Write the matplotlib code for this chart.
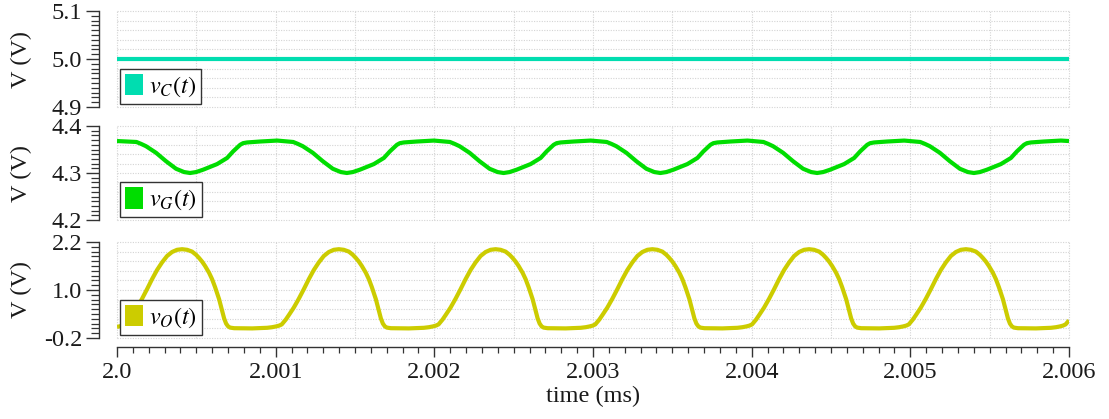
import matplotlib
matplotlib.use("Agg")
import matplotlib.pyplot as plt
from matplotlib.patches import Patch
from matplotlib.ticker import FixedLocator, FixedFormatter, NullLocator
import numpy as np

plt.rcParams['font.family'] = ['Liberation Serif', 'DejaVu Serif']
plt.rcParams['mathtext.fontset'] = 'stix'

# ---------------- data (time in microseconds after 2.0 ms) ----------------
time_c_us = [0.0, 6.0]
v_c = [5.0, 5.0]

time_g_us = [
    0.0000, 0.1224,
    0.1515, 0.1830, 0.2145, 0.2461, 0.2776, 0.3092, 0.3407, 0.3723, 0.4227, 0.4606,
    0.4985, 0.5426, 0.5868, 0.6309, 0.6940, 0.7319, 0.7571, 0.7761, 0.7950, 0.8202,
    0.9022, 1.0095, 1.1104,
    1.1395, 1.1710, 1.2025, 1.2341, 1.2656, 1.2972, 1.3287, 1.3603, 1.4107, 1.4486,
    1.4865, 1.5306, 1.5748, 1.6189, 1.6820, 1.7199, 1.7451, 1.7641, 1.7830, 1.8082,
    1.8902, 1.9975, 2.0984,
    2.1275, 2.1590, 2.1905, 2.2221, 2.2536, 2.2852, 2.3167, 2.3483, 2.3987, 2.4366,
    2.4745, 2.5186, 2.5628, 2.6069, 2.6700, 2.7079, 2.7331, 2.7521, 2.7710, 2.7962,
    2.8782, 2.9855, 3.0864,
    3.1155, 3.1470, 3.1785, 3.2101, 3.2416, 3.2732, 3.3047, 3.3363, 3.3867, 3.4246,
    3.4625, 3.5066, 3.5508, 3.5949, 3.6580, 3.6959, 3.7211, 3.7401, 3.7590, 3.7842,
    3.8662, 3.9735, 4.0744,
    4.1035, 4.1350, 4.1665, 4.1981, 4.2296, 4.2612, 4.2927, 4.3243, 4.3747, 4.4126,
    4.4505, 4.4946, 4.5388, 4.5829, 4.6460, 4.6839, 4.7091, 4.7281, 4.7470, 4.7722,
    4.8542, 4.9615, 5.0624,
    5.0915, 5.1230, 5.1545, 5.1861, 5.2176, 5.2492, 5.2807, 5.3123, 5.3627, 5.4006,
    5.4385, 5.4826, 5.5268, 5.5709, 5.6340, 5.6719, 5.6971, 5.7161, 5.7350, 5.7602,
    5.8422, 5.9495, 6.0000]
v_g = [
    4.368, 4.366,
    4.362, 4.357, 4.350, 4.343, 4.334, 4.325, 4.317, 4.309, 4.302, 4.300,
    4.302, 4.307, 4.313, 4.319, 4.332, 4.346, 4.354, 4.360, 4.3635, 4.365,
    4.367, 4.369, 4.366,
    4.362, 4.357, 4.350, 4.343, 4.334, 4.325, 4.317, 4.309, 4.302, 4.300,
    4.302, 4.307, 4.313, 4.319, 4.332, 4.346, 4.354, 4.360, 4.3635, 4.365,
    4.367, 4.369, 4.366,
    4.362, 4.357, 4.350, 4.343, 4.334, 4.325, 4.317, 4.309, 4.302, 4.300,
    4.302, 4.307, 4.313, 4.319, 4.332, 4.346, 4.354, 4.360, 4.3635, 4.365,
    4.367, 4.369, 4.366,
    4.362, 4.357, 4.350, 4.343, 4.334, 4.325, 4.317, 4.309, 4.302, 4.300,
    4.302, 4.307, 4.313, 4.319, 4.332, 4.346, 4.354, 4.360, 4.3635, 4.365,
    4.367, 4.369, 4.366,
    4.362, 4.357, 4.350, 4.343, 4.334, 4.325, 4.317, 4.309, 4.302, 4.300,
    4.302, 4.307, 4.313, 4.319, 4.332, 4.346, 4.354, 4.360, 4.3635, 4.365,
    4.367, 4.369, 4.366,
    4.362, 4.357, 4.350, 4.343, 4.334, 4.325, 4.317, 4.309, 4.302, 4.300,
    4.302, 4.307, 4.313, 4.319, 4.332, 4.346, 4.354, 4.360, 4.3635, 4.365,
    4.367, 4.369, 4.368]

time_o_us = [
    0.0000, 0.0152, 0.0341,
    0.0505, 0.0757, 0.0946, 0.1262, 0.1577, 0.1893, 0.2208, 0.2524, 0.2839, 0.3155,
    0.3470, 0.3786, 0.4101, 0.4416, 0.4732, 0.4984, 0.5174, 0.5363, 0.5552, 0.5804,
    0.5994, 0.6183, 0.6435, 0.6625, 0.6751, 0.6877, 0.7003, 0.7129, 0.7382, 0.8517,
    0.9464, 0.9779, 1.0032, 1.0221,
    1.0385, 1.0637, 1.0826, 1.1142, 1.1457, 1.1773, 1.2088, 1.2404, 1.2719, 1.3035,
    1.3350, 1.3666, 1.3981, 1.4296, 1.4612, 1.4864, 1.5054, 1.5243, 1.5432, 1.5684,
    1.5874, 1.6063, 1.6315, 1.6505, 1.6631, 1.6757, 1.6883, 1.7009, 1.7262, 1.8397,
    1.9344, 1.9659, 1.9912, 2.0101,
    2.0265, 2.0517, 2.0706, 2.1022, 2.1337, 2.1653, 2.1968, 2.2284, 2.2599, 2.2915,
    2.3230, 2.3546, 2.3861, 2.4176, 2.4492, 2.4744, 2.4934, 2.5123, 2.5312, 2.5564,
    2.5754, 2.5943, 2.6195, 2.6385, 2.6511, 2.6637, 2.6763, 2.6889, 2.7142, 2.8277,
    2.9224, 2.9539, 2.9792, 2.9981,
    3.0145, 3.0397, 3.0586, 3.0902, 3.1217, 3.1533, 3.1848, 3.2164, 3.2479, 3.2795,
    3.3110, 3.3426, 3.3741, 3.4056, 3.4372, 3.4624, 3.4814, 3.5003, 3.5192, 3.5444,
    3.5634, 3.5823, 3.6075, 3.6265, 3.6391, 3.6517, 3.6643, 3.6769, 3.7022, 3.8157,
    3.9104, 3.9419, 3.9672, 3.9861,
    4.0025, 4.0277, 4.0466, 4.0782, 4.1097, 4.1413, 4.1728, 4.2044, 4.2359, 4.2675,
    4.2990, 4.3306, 4.3621, 4.3936, 4.4252, 4.4504, 4.4694, 4.4883, 4.5072, 4.5324,
    4.5514, 4.5703, 4.5955, 4.6145, 4.6271, 4.6397, 4.6523, 4.6649, 4.6902, 4.8037,
    4.8984, 4.9299, 4.9552, 4.9741,
    4.9905, 5.0157, 5.0346, 5.0662, 5.0977, 5.1293, 5.1608, 5.1924, 5.2239, 5.2555,
    5.2870, 5.3186, 5.3501, 5.3816, 5.4132, 5.4384, 5.4574, 5.4763, 5.4952, 5.5204,
    5.5394, 5.5583, 5.5835, 5.6025, 5.6151, 5.6277, 5.6403, 5.6529, 5.6782, 5.7917,
    5.8864, 5.9179, 5.9432, 5.9621,
    5.9785, 6.0000]
v_o = [
    0.078, 0.09, 0.11,
    0.14, 0.26, 0.37, 0.56, 0.78, 1.02, 1.27, 1.50, 1.69, 1.85,
    1.95, 2.005, 2.02, 2.005, 1.96, 1.88, 1.80, 1.71, 1.60, 1.43,
    1.27, 1.07, 0.77, 0.48, 0.29, 0.16, 0.09, 0.06, 0.045, 0.04,
    0.055, 0.07, 0.09, 0.11,
    0.14, 0.26, 0.37, 0.56, 0.78, 1.02, 1.27, 1.50, 1.69, 1.85,
    1.95, 2.005, 2.02, 2.005, 1.96, 1.88, 1.80, 1.71, 1.60, 1.43,
    1.27, 1.07, 0.77, 0.48, 0.29, 0.16, 0.09, 0.06, 0.045, 0.04,
    0.055, 0.07, 0.09, 0.11,
    0.14, 0.26, 0.37, 0.56, 0.78, 1.02, 1.27, 1.50, 1.69, 1.85,
    1.95, 2.005, 2.02, 2.005, 1.96, 1.88, 1.80, 1.71, 1.60, 1.43,
    1.27, 1.07, 0.77, 0.48, 0.29, 0.16, 0.09, 0.06, 0.045, 0.04,
    0.055, 0.07, 0.09, 0.11,
    0.14, 0.26, 0.37, 0.56, 0.78, 1.02, 1.27, 1.50, 1.69, 1.85,
    1.95, 2.005, 2.02, 2.005, 1.96, 1.88, 1.80, 1.71, 1.60, 1.43,
    1.27, 1.07, 0.77, 0.48, 0.29, 0.16, 0.09, 0.06, 0.045, 0.04,
    0.055, 0.07, 0.09, 0.11,
    0.14, 0.26, 0.37, 0.56, 0.78, 1.02, 1.27, 1.50, 1.69, 1.85,
    1.95, 2.005, 2.02, 2.005, 1.96, 1.88, 1.80, 1.71, 1.60, 1.43,
    1.27, 1.07, 0.77, 0.48, 0.29, 0.16, 0.09, 0.06, 0.045, 0.04,
    0.055, 0.07, 0.09, 0.11,
    0.14, 0.26, 0.37, 0.56, 0.78, 1.02, 1.27, 1.50, 1.69, 1.85,
    1.95, 2.005, 2.02, 2.005, 1.96, 1.88, 1.80, 1.71, 1.60, 1.43,
    1.27, 1.07, 0.77, 0.48, 0.29, 0.16, 0.09, 0.06, 0.045, 0.04,
    0.055, 0.07, 0.09, 0.11,
    0.14, 0.24]

x_ticks = [2.0, 2.001, 2.002, 2.003, 2.004, 2.005, 2.006]
x_tick_labels = ["2.0", "2.001", "2.002", "2.003", "2.004", "2.005", "2.006"]

panels = [
    dict(t=time_c_us, v=v_c, ylim=(4.9, 5.1), yticks=[4.9, 5.0, 5.1],
         ylabels=["4.9", "5.0", "5.1"], color="#00DDB0", label=r"$v_C(t)$"),
    dict(t=time_g_us, v=v_g, ylim=(4.2, 4.4), yticks=[4.2, 4.3, 4.4],
         ylabels=["4.2", "4.3", "4.4"], color="#00DD00", label=r"$v_G(t)$"),
    dict(t=time_o_us, v=v_o, ylim=(-0.2, 2.2), yticks=[-0.2, 1.0, 2.2],
         ylabels=["-0.2", "1.0", "2.2"], color="#CCCC00", label=r"$v_O(t)$"),
]

# ---------------- figure ----------------
W, H = 1109, 419
fig = plt.figure(figsize=(W / 100, H / 100), dpi=100)
left_px, right_px = 117, 1069
panel_px = [(11, 107), (126, 220), (242, 338)]

FS = 17.5
TXT = "#1a1a1a"
SP = "#333333"
GRID = "#d4d4d4"

for i, (p, (top, bot)) in enumerate(zip(panels, panel_px)):
    ax = fig.add_axes([left_px / W, 1 - bot / H, (right_px - left_px) / W, (bot - top) / H])
    tm = 2.0 + np.asarray(p["t"]) / 1000.0
    ax.plot(tm, p["v"], color=p["color"], lw=3.0, solid_capstyle="butt",
            solid_joinstyle="round", zorder=3)
    ax.set_xlim(2.0, 2.006)
    lo, hi = p["ylim"]
    ax.set_ylim(lo, hi)

    # grid (dotted)
    for gy in np.linspace(lo, hi, 11):
        ax.axhline(gy, color=GRID, lw=0.8, ls=(0, (1, 1.3)), zorder=1, clip_on=False)
    for gx in np.linspace(2.0, 2.006, 13):
        ax.axvline(gx, color=GRID, lw=0.8, ls=(0, (1, 1.3)), zorder=1, clip_on=False)

    for s in ("top", "right"):
        ax.spines[s].set_visible(False)
    ax.spines["left"].set_position(("outward", 13))
    ax.spines["left"].set_color(SP)
    ax.spines["left"].set_linewidth(1.0)

    ax.yaxis.set_major_locator(FixedLocator(p["yticks"]))
    ax.yaxis.set_major_formatter(FixedFormatter(p["ylabels"]))
    ax.yaxis.set_minor_locator(FixedLocator(np.linspace(lo, hi, 21)))
    ax.tick_params(axis="y", which="major", direction="out", length=9.5, width=1.0,
                   color=SP, labelsize=FS, labelcolor=TXT, pad=2.5)
    ax.tick_params(axis="y", which="minor", direction="out", length=5.5, width=0.9, color=SP)
    ax.set_ylabel("V (V)", fontsize=FS, color=TXT)
    ax.yaxis.set_label_coords(-0.089, 0.5)

    if i < 2:
        ax.spines["bottom"].set_visible(False)
        ax.xaxis.set_major_locator(NullLocator())
        ax.xaxis.set_minor_locator(NullLocator())
    else:
        ax.spines["bottom"].set_position(("outward", 6.5))
        ax.spines["bottom"].set_color(SP)
        ax.spines["bottom"].set_linewidth(1.0)
        ax.xaxis.set_major_locator(FixedLocator(x_ticks))
        ax.xaxis.set_major_formatter(FixedFormatter(x_tick_labels))
        ax.xaxis.set_minor_locator(FixedLocator(np.linspace(2.0, 2.006, 61)))
        ax.tick_params(axis="x", which="major", direction="out", length=7.5, width=1.0,
                       color=SP, labelsize=FS, labelcolor=TXT, pad=3)
        ax.tick_params(axis="x", which="minor", direction="out", length=4, width=0.9, color=SP)
        ax.set_xlabel("time (ms)", fontsize=FS, color=TXT, labelpad=2)

    handle = Patch(facecolor=p["color"], edgecolor="none")
    leg = ax.legend([handle], [p["label"]], loc="lower left",
                    bbox_to_anchor=(3 / 952, 3 / 96), borderaxespad=0,
                    frameon=True, fancybox=False, framealpha=1, edgecolor=SP,
                    fontsize=FS, borderpad=0.2, handlelength=0.75, handleheight=1.0,
                    handletextpad=0.25)
    leg.get_frame().set_linewidth(1.0)
    leg.set_zorder(5)

fig.savefig("out.png", dpi=100)
